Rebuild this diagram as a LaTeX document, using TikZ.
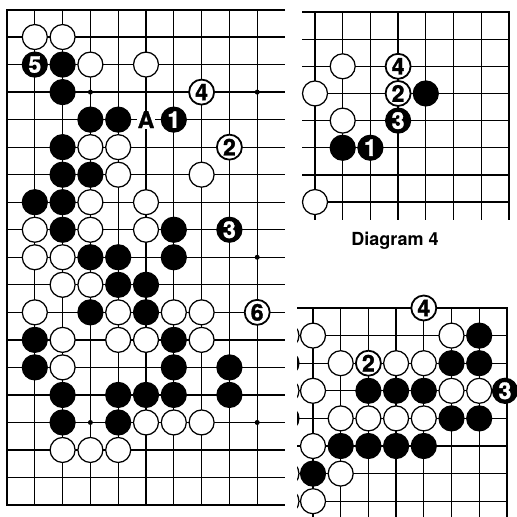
\documentclass[tikz,border=0pt]{standalone}
\usepackage{fontspec}
\setmainfont{TeX Gyre Heros}
\newfontfamily\heavyfont{TeX Gyre Heros}[BoldFeatures={FakeBold=1.5}]
\newcommand\stonefont{\heavyfont\bfseries\fontsize{23}{23}\selectfont}
\begin{document}
\begin{tikzpicture}[x=1pt,y=-1pt,
  gridline/.style={line width=1.3pt,black},
  frameline/.style={line width=2pt,black},
  wst/.style={circle,draw=black,fill=white,line width=1.25pt,minimum size=25pt,inner sep=0pt,font=\stonefont},
  wnum/.style={wst,line width=1.8pt},
  bst/.style={circle,draw=black,fill=black,line width=1.2pt,minimum size=25pt,inner sep=0pt,text=white,font=\stonefont},
  hoshi/.style={circle,fill=black,minimum size=5pt,inner sep=0pt},
  lbl/.style={fill=white,inner sep=0.6pt,font=\stonefont},
  title/.style={font=\bfseries\fontsize{18}{18}\selectfont}]
\useasboundingbox (0,0) rectangle (517,517);
\fill[white] (0,0) rectangle (517,517);
\newcommand\MStone[4]{\node[#3] (m#1x#2) at ({7+27.8*#1},{9.5+27.53*#2}) {#4};}
\newcommand\TStone[4]{\node[#3] (t#1x#2) at ({315+27.7*#1},{12+27.15*#2}) {#4};}
\newcommand\BStone[4]{\node[#3] (b#1x#2) at ({313+27.7*#1},{308+27.6*#2}) {#4};}
% ---------------- main board ----------------
\foreach \r in {1,...,17} \draw[gridline] (7,{9.5+27.53*\r}) -- (285,{9.5+27.53*\r});
\foreach \c in {1,...,9} \draw[gridline] ({7+27.8*\c},9.5) -- ({7+27.8*\c},505);
\draw[frameline] (285,9.5) -- (7,9.5) -- (7,505) -- (285,505);
\foreach \c/\r in {3/3,9/3,9/9,3/15,9/15}
  \node[hoshi] (h\c x\r) at ({7+27.8*\c},{9.5+27.53*\r}) {};
% row 1-4
\MStone{1}{1}{wst}{} \MStone{2}{1}{wst}{}
\MStone{1}{2}{bst}{5} \MStone{2}{2}{bst}{} \MStone{3}{2}{wst}{} \MStone{5}{2}{wst}{}
\MStone{2}{3}{bst}{} \MStone{7}{3}{wnum}{4}
\MStone{3}{4}{bst}{} \MStone{4}{4}{bst}{} \MStone{5}{4}{lbl}{A} \MStone{6}{4}{bst}{1}
% row 5-8
\MStone{2}{5}{bst}{} \MStone{3}{5}{wst}{} \MStone{4}{5}{wst}{} \MStone{8}{5}{wnum}{2}
\MStone{2}{6}{bst}{} \MStone{3}{6}{bst}{} \MStone{4}{6}{wst}{} \MStone{7}{6}{wst}{}
\MStone{1}{7}{bst}{} \MStone{2}{7}{bst}{} \MStone{3}{7}{wst}{} \MStone{5}{7}{wst}{}
\MStone{1}{8}{wst}{} \MStone{2}{8}{bst}{} \MStone{3}{8}{wst}{} \MStone{5}{8}{wst}{} \MStone{6}{8}{bst}{} \MStone{8}{8}{bst}{3}
% row 9-12
\MStone{1}{9}{wst}{} \MStone{2}{9}{wst}{} \MStone{3}{9}{bst}{} \MStone{4}{9}{bst}{} \MStone{6}{9}{bst}{}
\MStone{2}{10}{wst}{} \MStone{3}{10}{wst}{} \MStone{4}{10}{bst}{} \MStone{5}{10}{bst}{}
\MStone{1}{11}{wst}{} \MStone{3}{11}{bst}{} \MStone{4}{11}{wst}{} \MStone{5}{11}{bst}{} \MStone{6}{11}{wst}{} \MStone{7}{11}{wst}{} \MStone{9}{11}{wnum}{6}
\MStone{1}{12}{bst}{} \MStone{2}{12}{wst}{} \MStone{4}{12}{wst}{} \MStone{5}{12}{wst}{} \MStone{6}{12}{bst}{} \MStone{7}{12}{wst}{}
% row 13-16
\MStone{1}{13}{bst}{} \MStone{2}{13}{wst}{} \MStone{6}{13}{bst}{} \MStone{8}{13}{bst}{}
\MStone{2}{14}{bst}{} \MStone{4}{14}{bst}{} \MStone{5}{14}{bst}{} \MStone{6}{14}{bst}{} \MStone{8}{14}{bst}{}
\MStone{2}{15}{bst}{} \MStone{4}{15}{bst}{} \MStone{5}{15}{wst}{} \MStone{6}{15}{wst}{} \MStone{7}{15}{wst}{}
\MStone{2}{16}{wst}{} \MStone{3}{16}{wst}{} \MStone{4}{16}{wst}{}
% ---------------- top right board ----------------
\foreach \j in {1,...,7} \draw[gridline] (302,{12+27.15*\j}) -- (509,{12+27.15*\j});
\foreach \k in {0,...,6} \draw[gridline] ({315+27.7*\k},12) -- ({315+27.7*\k},220);
\draw[frameline] (302,12) -- (509,12) -- (509,220);
\TStone{1}{2}{wst}{} \TStone{3}{2}{wnum}{4}
\TStone{0}{3}{wst}{} \TStone{3}{3}{wnum}{2} \TStone{4}{3}{bst}{}
\TStone{1}{4}{wst}{} \TStone{3}{4}{bst}{3}
\TStone{1}{5}{bst}{} \TStone{2}{5}{bst}{1}
\TStone{0}{7}{wst}{}
% ---------------- title ----------------
\node[title] (diag) at (395,241) {Diagram 4};
% ---------------- bottom right board ----------------
\foreach \j in {1,...,7} \draw[gridline] (297,{308+27.6*\j}) -- (507,{308+27.6*\j});
\foreach \k in {0,...,6} \draw[gridline] ({313+27.7*\k},308) -- ({313+27.7*\k},520);
\draw[frameline] (297,308) -- (507,308) -- (507,520);
\begin{scope}
  \clip (297,300) rectangle (330,520);
  \foreach \j/\s in {1/wst,2/bst,3/wst,4/bst,6/wst,7/wst}
    \node[\s] (x\j) at (286.5,{308+27.6*\j}) {};
\end{scope}
\BStone{4}{0}{wnum}{4}
\BStone{0}{1}{wst}{} \BStone{5}{1}{wst}{} \BStone{6}{1}{bst}{}
\BStone{1}{2}{wst}{} \BStone{2}{2}{wnum}{2} \BStone{3}{2}{wst}{} \BStone{4}{2}{wst}{} \BStone{5}{2}{bst}{} \BStone{6}{2}{bst}{}
\BStone{0}{3}{wst}{} \BStone{2}{3}{bst}{} \BStone{3}{3}{bst}{} \BStone{4}{3}{bst}{} \BStone{5}{3}{wst}{} \BStone{6}{3}{wst}{}
\node[bst] (b7x3) at (505,{308+27.6*3}) {3};
\BStone{1}{4}{wst}{} \BStone{2}{4}{wst}{} \BStone{3}{4}{wst}{} \BStone{4}{4}{wst}{} \BStone{5}{4}{bst}{} \BStone{6}{4}{bst}{}
\BStone{0}{5}{wst}{} \BStone{1}{5}{bst}{} \BStone{2}{5}{bst}{} \BStone{3}{5}{bst}{} \BStone{4}{5}{bst}{}
\BStone{0}{6}{bst}{} \BStone{1}{6}{wst}{}
\BStone{0}{7}{wst}{}
\end{tikzpicture}
\end{document}
